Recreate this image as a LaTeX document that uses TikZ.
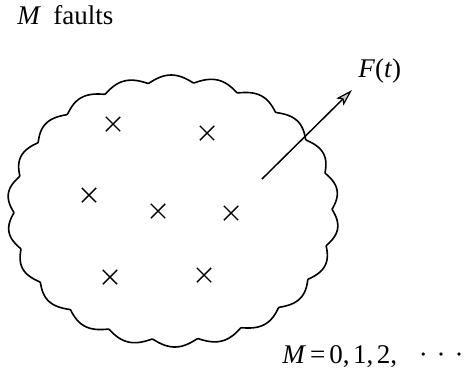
\documentclass[tikz,border=0pt]{standalone}
\usepackage{fontspec}
\setmainfont{Liberation Serif}
\usetikzlibrary{shapes.misc,arrows.meta}
\begin{document}
\begin{tikzpicture}[x=0.5pt,y=-0.5pt,
  lbl/.style={inner sep=0pt,anchor=base west,font=\fontsize{13.5}{15}\selectfont},
  fault/.style={cross out,draw,line width=0.7pt,minimum size=6.5pt,inner sep=0pt},
  cloudline/.style={line width=0.8pt,line join=round},
  flow/.style={line width=0.75pt,-{Stealth[length=8.5pt,width=5pt,inset=1.8pt,fill=gray!45,line width=0.6pt]}}]
\useasboundingbox (0,0) rectangle (464,377);
% cloud
\draw[cloudline] plot[domain=0:360,samples=793,variable=\t]
  ({173+(159+7*abs(sin(11*\t+8)))*cos(\t)},{211+(129+7*abs(sin(11*\t+8)))*sin(\t)}) -- cycle;
% faults
\node[fault] (c1) at (113,124) {};
\node[fault] (c2) at (207,133) {};
\node[fault] (c3) at (89,195) {};
\node[fault] (c4) at (158,211) {};
\node[fault] (c5) at (231,213) {};
\node[fault] (c6) at (110,277) {};
\node[fault] (c7) at (204,275) {};
% arrow
\coordinate (from) at (262,179);
\coordinate (tip) at (352,90);
\draw[flow] (from) -- (tip);
% labels
\node[lbl] (title) at (17,24) {\textit{M}\hspace{0.45em}faults};
\node[lbl] (ft) at (358,77) {\textit{F}(\textit{t})};
\node[lbl] (mval) at (282,363) {\textit{M}\hspace{0.15em}=\hspace{0.15em}0,\hspace{0.13em}1,\hspace{0.13em}2,\hspace{0.8em}·\hspace{0.33em}·\hspace{0.33em}·};
\end{tikzpicture}
\end{document}
